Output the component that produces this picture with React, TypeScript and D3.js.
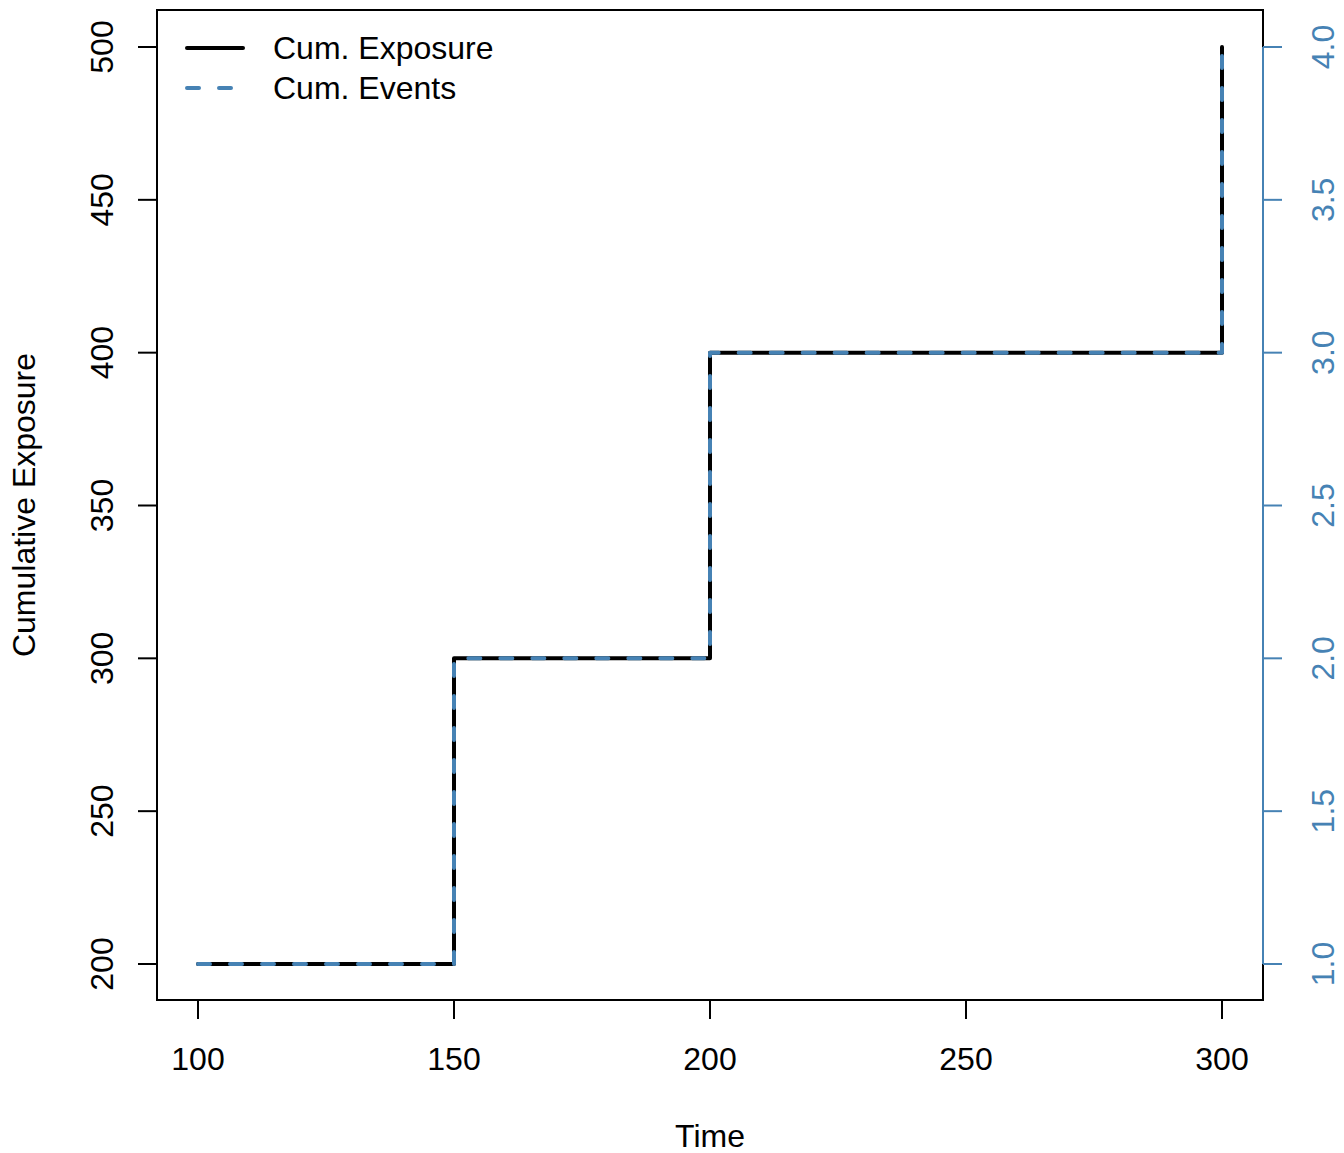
import React from "react";
import * as d3 from "d3";

const times = [100, 150, 200, 300];
const exposure = [200, 300, 400, 500];
const events = [1, 2, 3, 4];
const xTicks = [100, 150, 200, 250, 300];
const yTicks = [200, 250, 300, 350, 400, 450, 500];
const y2Ticks = [1.0, 1.5, 2.0, 2.5, 3.0, 3.5, 4.0];
const legendLabels = ["Cum. Exposure", "Cum. Events"];

const W = 1344, H = 1153;
const L = 157, R = 1263, T = 10, B = 1000;
const BLUE = "#4682B4";
const FONT = "Liberation Sans, Arial, Helvetica, sans-serif";

export default function App() {
  const x = d3.scaleLinear().domain([100, 300]).range([198, 1222]);
  const y = d3.scaleLinear().domain([200, 500]).range([964, 47]);
  const y2 = d3.scaleLinear().domain([1, 4]).range([964, 47]);

  const lineExp = d3.line<number>().x((_, i) => x(times[i])).y((d) => y(d)).curve(d3.curveStepAfter);
  const lineEv = d3.line<number>().x((_, i) => x(times[i])).y((d) => y2(d)).curve(d3.curveStepAfter);

  return (
    <svg width={W} height={H} style={{ position: "absolute", left: 0, top: 0, background: "#fff" }} fontFamily={FONT}>
      <rect x={0} y={0} width={W} height={H} fill="#fff" />
      <path d={lineExp(exposure) || ""} fill="none" stroke="#000" strokeWidth={4} strokeLinejoin="round" strokeLinecap="round" />
      <path d={lineEv(events) || ""} fill="none" stroke={BLUE} strokeWidth={4} strokeDasharray="12,20" strokeLinejoin="round" strokeLinecap="round" />
      <rect x={L} y={T} width={R - L} height={B - T} fill="none" stroke="#000" strokeWidth={2} />
      {/* x axis */}
      <line x1={x(100)} x2={x(300)} y1={B} y2={B} stroke="#000" strokeWidth={2} />
      {xTicks.map((t) => (
        <g key={"x" + t}>
          <line x1={x(t)} x2={x(t)} y1={B} y2={B + 19} stroke="#000" strokeWidth={2} />
          <text x={x(t)} y={1070} fontSize={32} textAnchor="middle">{t}</text>
        </g>
      ))}
      {/* left axis */}
      {yTicks.map((t) => (
        <g key={"y" + t}>
          <line x1={L - 19} x2={L} y1={y(t)} y2={y(t)} stroke="#000" strokeWidth={2} />
          <text transform={`translate(113,${y(t)}) rotate(-90)`} fontSize={32} textAnchor="middle">{t}</text>
        </g>
      ))}
      {/* right axis */}
      <line x1={R} x2={R} y1={y2(1)} y2={y2(4)} stroke={BLUE} strokeWidth={2} />
      {y2Ticks.map((t) => (
        <g key={"y2" + t}>
          <line x1={R} x2={R + 19} y1={y2(t)} y2={y2(t)} stroke={BLUE} strokeWidth={2} />
          <text transform={`translate(1334,${y2(t)}) rotate(-90)`} fontSize={32} textAnchor="middle" fill={BLUE}>{t.toFixed(1)}</text>
        </g>
      ))}
      <text x={(L + R) / 2} y={1147} fontSize={32} textAnchor="middle">Time</text>
      <text transform={`translate(35,${(T + B) / 2}) rotate(-90)`} fontSize={32} textAnchor="middle">Cumulative Exposure</text>
      {/* legend */}
      <line x1={187} x2={243} y1={48} y2={48} stroke="#000" strokeWidth={4} strokeLinecap="round" />
      <line x1={187} x2={243} y1={88} y2={88} stroke={BLUE} strokeWidth={4} strokeDasharray="12,20" strokeLinecap="round" />
      <text x={273} y={59} fontSize={32}>{legendLabels[0]}</text>
      <text x={273} y={99} fontSize={32}>{legendLabels[1]}</text>
    </svg>
  );
}
